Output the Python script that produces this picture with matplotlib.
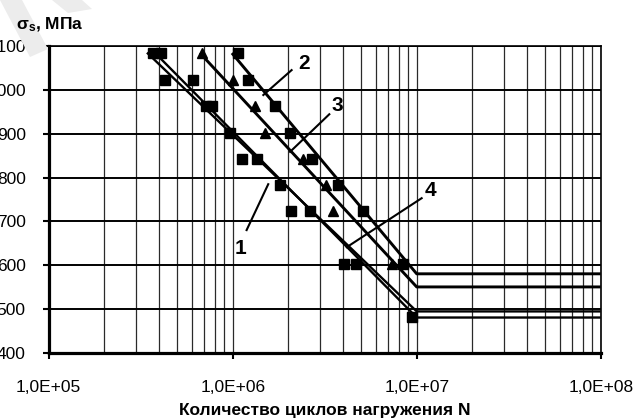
import matplotlib
matplotlib.use("Agg")
import matplotlib.pyplot as plt
from matplotlib.ticker import FixedLocator, LogLocator, NullLocator, FuncFormatter
from matplotlib.patches import Polygon

plt.rcParams['font.family'] = ['Liberation Sans', 'DejaVu Sans']
plt.rcParams['mathtext.fontset'] = 'custom'
plt.rcParams['mathtext.rm'] = 'Liberation Sans'
plt.rcParams['mathtext.bf'] = 'Liberation Sans:bold'

# Test data: stress levels (MPa) and cycles to failure
s1_N = [3.69e5, 4.29e5, 7.16e5, 9.67e5, 1.119e6, 2.07e6, 4.03e6, 9.39e6]
s1_S = [1084, 1023, 963, 903, 843, 723, 603, 482]
s4_N = [4.08e5, 6.06e5, 7.72e5, 1.35e6, 1.807e6, 2.63e6, 4.68e6]
s4_S = [1084, 1023, 963, 843, 783, 723, 603]
s3_N = [6.79e5, 1.008e6, 1.322e6, 1.498e6, 2.42e6, 3.21e6, 3.52e6, 7.31e6]
s3_S = [1084, 1023, 963, 903, 843, 783, 723, 603]
s2_N = [1.072e6, 1.216e6, 1.698e6, 2.05e6, 2.69e6, 3.75e6, 5.13e6, 8.46e6]
s2_S = [1084, 1023, 963, 903, 843, 783, 723, 603]

# Fatigue curves: start point, knee at base number of cycles, endurance limit
curve_names = ["1", "4", "3", "2"]
curve_start_N = [3.42e5, 3.77e5, 6.64e5, 9.9e5]
curve_start_S = [1086, 1086, 1085, 1085]
knee_N = 1e7
end_N = 1e8
endurance_S = [494, 480, 550, 580]
curve_lw = [1.7, 1.7, 2.1, 2.1]

x_ticks = [1e5, 1e6, 1e7, 1e8]
y_ticks = [400, 500, 600, 700, 800, 900, 1000, 1100]

fig = plt.figure(figsize=(6.38, 4.19), dpi=100)
W, H = 638, 419
ax = fig.add_axes([48.7 / W, 1 - 352.5 / H, 552.0 / W, 306.0 / H])

# faint background watermark strokes
for pts in ([(0, 419), (22, 419), (48, 370), (30, 362)],
            [(52, 419), (82, 419), (92, 410), (68, 406)]):
    fig.patches.append(Polygon([(x / W, y / H) for x, y in pts], closed=True,
                               transform=fig.transFigure, facecolor='#ececec',
                               edgecolor='none', zorder=0))

ax.set_xscale('log')
ax.set_xlim(1e5, 1e8)
ax.set_ylim(400, 1100)

# grid
ax.xaxis.set_major_locator(FixedLocator(x_ticks))
ax.xaxis.set_minor_locator(LogLocator(base=10, subs=range(2, 10)))
ax.yaxis.set_major_locator(FixedLocator(y_ticks))
ax.yaxis.set_minor_locator(NullLocator())
ax.grid(True, which='major', axis='y', color='black', lw=1.4)
ax.grid(True, which='both', axis='x', color='#2a2a2a', lw=0.9)
ax.set_axisbelow(True)

ax.xaxis.set_major_formatter(FuncFormatter(lambda v, p: ("%.1E" % v).replace('.', ',')))
ax.yaxis.set_major_formatter(FuncFormatter(lambda v, p: "%d" % v))
ax.tick_params(axis='x', which='minor', length=0)
ax.tick_params(axis='x', which='major', direction='out', length=4, width=1.5,
               labelsize=12.5, pad=15.5)
ax.tick_params(axis='y', direction='out', length=4, width=1.5, labelsize=12.5, pad=12.5)

for side in ('left', 'bottom'):
    ax.spines[side].set_linewidth(2.3)
for side in ('top', 'right'):
    ax.spines[side].set_linewidth(1.2)

# curves: sloped branch then horizontal endurance limit
for n0, s0, se, lw in zip(curve_start_N, curve_start_S, endurance_S, curve_lw):
    ax.plot([n0, knee_N, end_N], [s0, se, se], color='black', lw=lw,
            solid_capstyle='butt', zorder=3)

mk = dict(color='black', ls='none', zorder=4)
ax.plot(s1_N, s1_S, marker='s', ms=7, **mk)
ax.plot(s4_N, s4_S, marker='s', ms=7, **mk)
ax.plot(s2_N, s2_S, marker='s', ms=7, **mk)
ax.plot(s3_N, s3_S, marker='^', ms=7.5, **mk)

# curve labels with leader lines
labels = [("2", (2.44e6, 1062), (2.09e6, 1046), (1.467e6, 989)),
          ("3", (3.71e6, 966), (3.35e6, 945), (2.05e6, 859)),
          ("4", (1.19e7, 771), (1.064e7, 753), (4.17e6, 641)),
          ("1", (1.096e6, 638), (1.19e6, 680), (1.56e6, 785))]
for txt, tpos, p_from, p_to in labels:
    ax.text(tpos[0], tpos[1], txt, fontsize=15, fontweight='bold',
            ha='center', va='center', zorder=5)
    ax.plot([p_from[0], p_to[0]], [p_from[1], p_to[1]], color='black', lw=1.5, zorder=5)

ax.set_xlabel("Количество циклов нагружения N", fontsize=12.5, fontweight='bold',
              labelpad=6)
fig.text(16 / W, 1 - 29 / H, r"$\mathbf{\sigma_s}$, МПа", fontsize=12.5,
         fontweight='bold', ha='left', va='baseline')

fig.savefig("out.png", dpi=100)
